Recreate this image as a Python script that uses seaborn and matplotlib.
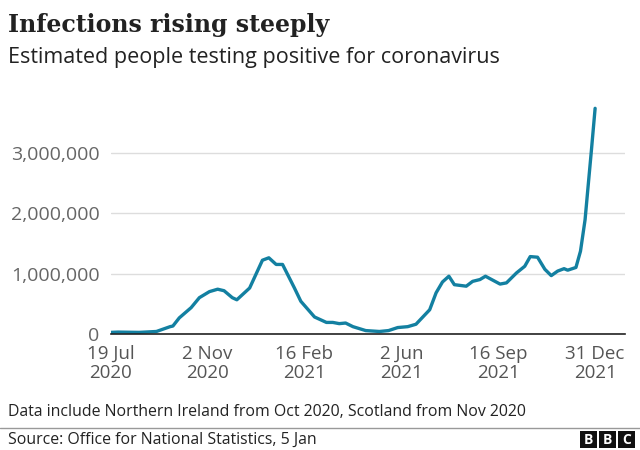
import pandas as pd
import matplotlib.pyplot as plt
import seaborn as sns
from matplotlib.patches import Rectangle
from matplotlib.lines import Line2D

# Estimated people testing positive
dates = ["2020-07-19", "2020-07-27", "2020-08-19", "2020-09-07", "2020-09-22",
         "2020-09-25", "2020-10-02", "2020-10-15", "2020-10-24", "2020-11-04",
         "2020-11-13", "2020-11-20", "2020-11-29", "2020-12-04", "2020-12-18",
         "2021-01-01", "2021-01-08", "2021-01-16", "2021-01-23", "2021-02-05",
         "2021-02-12", "2021-02-27", "2021-03-12", "2021-03-19", "2021-03-26",
         "2021-04-02", "2021-04-10", "2021-04-24", "2021-05-09", "2021-05-19",
         "2021-05-29", "2021-06-09", "2021-06-18", "2021-07-03", "2021-07-10",
         "2021-07-17", "2021-07-24", "2021-07-30", "2021-08-12", "2021-08-19",
         "2021-08-27", "2021-09-02", "2021-09-18", "2021-09-25", "2021-10-06",
         "2021-10-15", "2021-10-21", "2021-10-29", "2021-11-06", "2021-11-13",
         "2021-11-20", "2021-11-27", "2021-12-01", "2021-12-10", "2021-12-15",
         "2021-12-20", "2021-12-23", "2021-12-27", "2021-12-31"]
positives = [25000, 30000, 25000, 40000, 120000,
             130000, 265000, 435000, 600000, 700000,
             740000, 715000, 600000, 565000, 760000,
             1220000, 1260000, 1150000, 1150000, 760000,
             540000, 280000, 190000, 190000, 170000,
             180000, 120000, 55000, 40000, 55000,
             105000, 120000, 160000, 400000, 680000,
             860000, 955000, 815000, 790000, 870000,
             900000, 955000, 825000, 845000, 1010000,
             1120000, 1280000, 1270000, 1070000, 965000,
             1040000, 1080000, 1055000, 1100000, 1370000,
             1890000, 2390000, 3050000, 3735000]

tick_dates = ["2020-07-19", "2020-11-02", "2021-02-16", "2021-06-02", "2021-09-16", "2021-12-31"]
tick_labels = ["19 Jul\n2020", "2 Nov\n2020", "16 Feb\n2021", "2 Jun\n2021", "16 Sep\n2021", "31 Dec\n2021"]
y_ticks = [0, 1000000, 2000000, 3000000]

df = pd.DataFrame({"date": pd.to_datetime(dates), "positives": positives})

sns.set_style("white")
plt.rcParams['font.family'] = ['Open Sans', 'DejaVu Sans']

fig = plt.figure(figsize=(6.4, 4.5), dpi=100)
ax = fig.add_axes([0.173, 0.258, 0.804, 0.51])

sns.lineplot(data=df, x="date", y="positives", color="#1380A1", linewidth=2.4, ax=ax)

ax.set_xlim(pd.Timestamp("2020-07-19"), pd.Timestamp("2022-02-02"))
ax.set_ylim(0, 3.8e6)
ax.set_xticks(pd.to_datetime(tick_dates))
ax.set_xticklabels(tick_labels, fontsize=13.5, color="#555555", linespacing=1.1)
ax.set_yticks(y_ticks)
ax.set_yticklabels([f"{v:,}" for v in y_ticks], fontsize=14, color="#666666")
ax.tick_params(axis="x", length=5, width=1, color="#333333", pad=3)
ax.tick_params(axis="y", length=0, pad=8)
ax.grid(axis="y", color="#dddddd", linewidth=1)
ax.grid(axis="x", visible=False)
ax.set_axisbelow(True)
for side in ["top", "right", "left"]:
    ax.spines[side].set_visible(False)
ax.spines["bottom"].set_color("#222222")
ax.spines["bottom"].set_linewidth(1.2)
ax.set_xlabel("")
ax.set_ylabel("")

fig.text(0.0125, 0.945, "Infections rising steeply", fontsize=17, fontweight="bold",
         family="DejaVu Serif", color="#222222", va="center")
fig.text(0.0125, 0.872, "Estimated people testing positive for coronavirus",
         fontsize=15.5, color="#222222", va="center")
fig.text(0.0125, 0.085, "Data include Northern Ireland from Oct 2020, Scotland from Nov 2020",
         fontsize=11.4, color="#222222", va="center")
fig.add_artist(Line2D([0, 1], [0.049, 0.049], color="#999999", linewidth=1, transform=fig.transFigure))
fig.text(0.0125, 0.022, "Source: Office for National Statistics, 5 Jan",
         fontsize=11.4, color="#222222", va="center")

# BBC logo blocks
for i, letter in enumerate("BBC"):
    x0 = (580 + i * 19) / 640
    fig.add_artist(Rectangle((x0, 2 / 450), 17 / 640, 17 / 450, transform=fig.transFigure,
                             facecolor="#111111", edgecolor="none"))
    fig.text(x0 + 8.5 / 640, 10.5 / 450, letter, fontsize=10, fontweight="bold",
             color="white", ha="center", va="center")

fig.savefig("out.png", dpi=100)
